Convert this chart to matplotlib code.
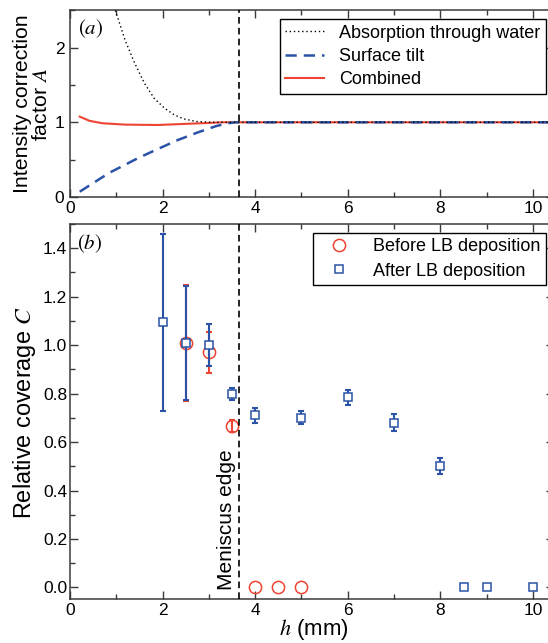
import numpy as np
import matplotlib
matplotlib.use("Agg")
import matplotlib.pyplot as plt
from matplotlib.ticker import MultipleLocator, FormatStrFormatter

plt.rcParams['font.family'] = ['Liberation Sans', 'DejaVu Sans']
plt.rcParams['mathtext.fontset'] = 'stix'

# (a) intensity correction curves
h_abs = [0.98, 1.19, 1.40, 1.61, 1.82, 2.04, 2.25, 2.46, 2.74, 3.09, 3.65, 10.45]
A_abs = [2.50, 2.10, 1.79, 1.52, 1.32, 1.19, 1.10, 1.045, 1.01, 1.0, 1.0, 1.0]

h_tilt = [0.21, 0.84, 1.47, 1.89, 2.32, 2.74, 3.16, 3.44, 3.58, 3.65, 10.45]
A_tilt = [0.07, 0.32, 0.52, 0.64, 0.76, 0.86, 0.95, 0.99, 1.0, 1.0, 1.0]

h_comb = [0.21, 0.42, 0.70, 1.19, 1.89, 2.46, 2.95, 3.30, 3.65, 10.45]
A_comb = [1.076, 1.02, 0.987, 0.969, 0.964, 0.978, 0.99, 1.0, 1.0, 1.0]

# (b) relative coverage
h_before = [2.5, 3.0, 3.5, 4.0, 4.5, 5.0]
C_before = [1.01, 0.97, 0.665, 0.0, 0.0, 0.0]
err_before = [0.24, 0.083, 0.025, 0, 0, 0]

h_after = [2.0, 2.5, 3.0, 3.5, 4.0, 5.0, 6.0, 7.0, 8.0, 8.5, 9.0, 10.0]
C_after = [1.095, 1.01, 1.0, 0.80, 0.71, 0.70, 0.785, 0.68, 0.50, 0.0, 0.0, 0.0]
err_after = [0.365, 0.235, 0.088, 0.025, 0.03, 0.027, 0.03, 0.035, 0.033, 0, 0, 0]

h_meniscus = 3.65

red = '#ee4431'
blue = '#2a52a6'
spine_col = '#3a3a3a'

W, H = 548, 643
fig = plt.figure(figsize=(W / 100, H / 100), dpi=100)
left = 70 / W
width = (553.8 - 70) / W
ax1 = fig.add_axes([left, 1 - 196.9 / H, width, 186.5 / H])
ax2 = fig.add_axes([left, 1 - 599.3 / H, width, 375.3 / H])


def style(ax):
    for s in ax.spines.values():
        s.set_color(spine_col)
        s.set_linewidth(1.1)
    ax.tick_params(which='both', direction='in', top=True, right=True,
                   color=spine_col, width=1.0, labelsize=12.5)
    ax.tick_params(which='major', length=6)
    ax.tick_params(which='minor', length=3.5)
    ax.xaxis.set_major_locator(MultipleLocator(2))
    ax.xaxis.set_minor_locator(MultipleLocator(1))
    ax.set_xlim(0, 10.45)


# top panel
style(ax1)
ax1.plot(h_comb, A_comb, color=red, lw=1.5, zorder=2, label='Combined')
ax1.plot(h_tilt, A_tilt, color=blue, lw=1.8, dashes=(4.5, 2.8), zorder=3,
         label='Surface tilt')
ax1.plot(h_abs, A_abs, color='black', lw=1.0, dashes=(1, 2), zorder=4,
         label='Absorption through water')
ax1.axvline(h_meniscus, color='black', lw=1.2, dashes=(4, 2.5), zorder=5)
ax1.set_ylim(0, 2.5)
ax1.yaxis.set_major_locator(MultipleLocator(1))
ax1.yaxis.set_minor_locator(MultipleLocator(0.5))
ax1.yaxis.set_major_formatter(FormatStrFormatter('%d'))
ax1.tick_params(axis='x', pad=3)
ax1.tick_params(axis='y', pad=4)
handles, labels = ax1.get_legend_handles_labels()
leg1 = ax1.legend(handles[::-1], labels[::-1], loc='upper right',
                  bbox_to_anchor=(546 / W, 1 - 19.3 / H),
                  bbox_transform=fig.transFigure, borderaxespad=0,
                  fontsize=13, fancybox=False, edgecolor='black',
                  framealpha=1, borderpad=0.3, labelspacing=0.35,
                  handlelength=2.15, handletextpad=0.85)
leg1.get_frame().set_linewidth(1.0)
ax1.text(8 / 483.8, 1 - 6.5 / 186.5, '$(a)$', transform=ax1.transAxes,
         ha='left', va='top', fontsize=15)

# bottom panel
style(ax2)
ax2.set_ylim(-0.049, 1.5)
ax2.yaxis.set_major_locator(MultipleLocator(0.2))
ax2.yaxis.set_minor_locator(MultipleLocator(0.1))
ax2.yaxis.set_major_formatter(FormatStrFormatter('%.1f'))
ax2.tick_params(axis='x', pad=3)
ax2.tick_params(axis='y', pad=2)

hb = np.array(h_before)
cb = np.array(C_before)
eb = np.array(err_before)
ha = np.array(h_after)
ca = np.array(C_after)
ea = np.array(err_after)

mb = eb > 0
ax2.errorbar(hb[mb], cb[mb], yerr=eb[mb], fmt='none', ecolor=red,
             elinewidth=1.5, capsize=2.3, capthick=1.5, zorder=2)
ax2.plot(hb, cb, 'o', ms=8.8, mfc='none', mec=red, mew=1.1, zorder=3,
         label='Before LB deposition')
ma = ea > 0
ax2.errorbar(ha[ma], ca[ma], yerr=ea[ma], fmt='none', ecolor=blue,
             elinewidth=1.5, capsize=2.3, capthick=1.5, zorder=4)
ax2.plot(ha, ca, 's', ms=5.4, mfc='white', mec=blue, mew=1.1, zorder=5,
         label='After LB deposition')
ax2.axvline(h_meniscus, color='black', lw=1.2, dashes=(4, 2.5), zorder=6)
ax2.text(3.58, -0.01, 'Meniscus edge', rotation=90, ha='right',
         va='bottom', fontsize=15, clip_on=False)
leg2 = ax2.legend(loc='upper right', bbox_to_anchor=(546 / W, 1 - 233 / H),
                  bbox_transform=fig.transFigure, borderaxespad=0,
                  fontsize=13, fancybox=False, edgecolor='black',
                  framealpha=1, borderpad=0.3, labelspacing=0.4,
                  handlelength=2.35, handletextpad=0.7, numpoints=1)
leg2.get_frame().set_linewidth(1.0)
ax2.text(7 / 483.8, 1 - 8 / 375.3, '$(b)$', transform=ax2.transAxes,
         ha='left', va='top', fontsize=15)

# axis labels
fig.text(32 / W, 1 - 104 / H, 'Intensity correction\nfactor $A$',
         rotation=90, ha='center', va='center', fontsize=15.3,
         linespacing=1.0)
fig.text(25 / W, 1 - 413 / H, 'Relative coverage $C$', rotation=90,
         ha='center', va='center', fontsize=16.9)
fig.text(313.7 / W, 1 - 630 / H, '$h$ (mm)', ha='center', va='center',
         fontsize=16)

fig.savefig('out.png', dpi=100)
